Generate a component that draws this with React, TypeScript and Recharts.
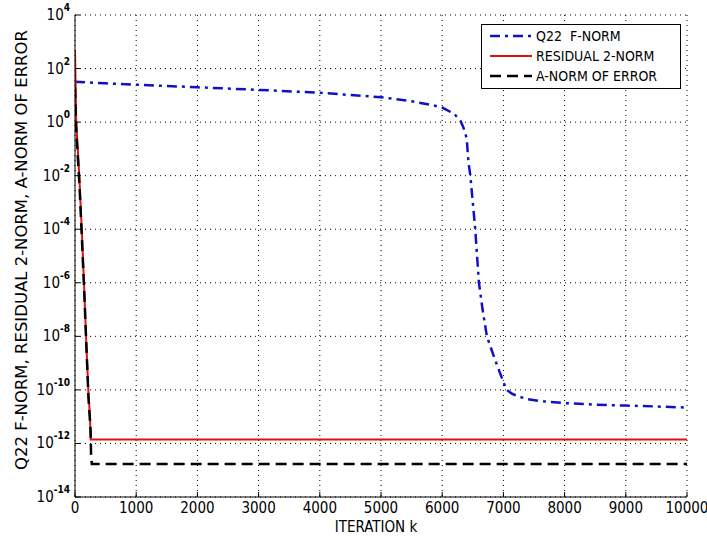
import React from "react";
import { LineChart, Line, XAxis, YAxis, CartesianGrid, Legend, Label } from "recharts";

// iteration ticks and log-axis ticks
const xTicks = [0, 1000, 2000, 3000, 4000, 5000, 6000, 7000, 8000, 9000, 10000];
const yExponents = [4, 2, 0, -2, -4, -6, -8, -10, -12, -14];
const yTicks = yExponents.map((e) => Math.pow(10, e));

// Q22 F-norm
const q22Iter = [0, 500, 1000, 2000, 3000, 4000, 5000, 5500, 5800, 6000, 6200, 6300, 6350, 6400, 6430, 6460, 6500, 6540, 6600, 6660, 6730, 6860, 6970, 7050, 7150, 7270, 7400, 7600, 8000, 8500, 9000, 9500, 10000];
const q22Vals = [32, 28, 25, 20, 16, 12.5, 8.5, 6, 4.5, 3.5, 2.0, 1.1, 0.6, 0.25, 0.03, 0.01, 1e-3, 1e-4, 1e-6, 1e-7, 1e-8, 1.4e-9, 3e-10, 1e-10, 7e-11, 5.5e-11, 4.5e-11, 3.8e-11, 3.2e-11, 2.8e-11, 2.6e-11, 2.4e-11, 2.2e-11];

// residual 2-norm
const resIter = [0, 20, 70, 110, 147, 180, 217, 245, 256, 10000];
const resVals = [500, 1, 1e-2, 1e-4, 1e-6, 1e-8, 1e-10, 1e-11, 1.4e-12, 1.4e-12];

// A-norm of error
const errIter = [0, 20, 72, 112, 150, 185, 220, 255, 262, 275, 10000];
const errVals = [20, 0.5, 5e-3, 5e-5, 5e-7, 5e-9, 5e-11, 3e-12, 4e-13, 1.7e-13, 1.7e-13];

const toRows = (ks: number[], vs: number[]) => ks.map((k, i) => ({ k, v: vs[i] }));

const SERIES = [
  { name: "Q22  F-NORM", color: "#1010c8", dash: "10 5 3 5", width: 2.5, data: toRows(q22Iter, q22Vals) },
  { name: "RESIDUAL 2-NORM", color: "#e01010", dash: undefined, width: 2, data: toRows(resIter, resVals) },
  { name: "A-NORM OF ERROR", color: "#000000", dash: "11 6", width: 2.5, data: toRows(errIter, errVals) },
];

const FONT = "'Liberation Sans Narrow', 'DejaVu Sans Condensed', 'Liberation Sans', Arial, sans-serif";

const XTick = (props: any) => {
  const { x, y, payload } = props;
  return (
    <g>
      <line x1={x} x2={x} y1={y} y2={y - 5} stroke="#000" />
      <text x={x} y={y + 11} textAnchor="middle" dominantBaseline="central" fontSize={15} fontFamily={FONT} fill="#000">
        {payload.value}
      </text>
    </g>
  );
};

const YTick = (props: any) => {
  const { x, y, payload } = props;
  const exp = Math.round(Math.log10(payload.value));
  return (
    <g>
      <line x1={x} x2={x + 5} y1={y} y2={y} stroke="#000" />
      <text x={x - 5} y={y} textAnchor="end" dominantBaseline="central" fontSize={15} fontFamily={FONT} fill="#000">
        10
        <tspan dy={-8} fontSize={10} fontWeight="bold">{String(exp)}</tspan>
      </text>
    </g>
  );
};

const renderLegend = () => (
  <div
    style={{
      width: 200,
      height: 65,
      boxSizing: "border-box",
      border: "1px solid #000",
      background: "#fff",
      paddingTop: 1,
      fontFamily: FONT,
      fontSize: 14,
      color: "#000",
    }}
  >
    {SERIES.map((s) => (
      <div key={s.name} style={{ display: "flex", alignItems: "center", height: 20 }}>
        <svg width={52} height={10}>
          <line x1={8} x2={50} y1={5} y2={5} stroke={s.color} strokeWidth={s.width} strokeDasharray={s.dash} />
        </svg>
        <span style={{ marginLeft: 2, whiteSpace: "pre" }}>{s.name}</span>
      </div>
    ))}
  </div>
);

export default function App() {
  return (
    <div style={{ position: "absolute", left: 0, top: 0, background: "#fff" }}>
      <LineChart width={707} height={540} margin={{ top: 15, right: 20, bottom: 0, left: 0 }}>
        <CartesianGrid stroke="#000" strokeDasharray="1 4" />
        <XAxis
          type="number"
          dataKey="k"
          domain={[0, 10000]}
          ticks={xTicks}
          allowDataOverflow
          height={43}
          tickSize={0}
          tickMargin={0}
          tick={<XTick />}
          axisLine={{ stroke: "#000" }}
          interval={0}
        >
          <Label
            content={() => (
              <text x={376} y={527} textAnchor="middle" dominantBaseline="central" fontSize={15} fontFamily={FONT} fill="#000">
                ITERATION  k
              </text>
            )}
          />
        </XAxis>
        <YAxis
          type="number"
          scale="log"
          domain={[1e-14, 1e4]}
          ticks={yTicks}
          allowDataOverflow
          width={75}
          tickSize={0}
          tickMargin={0}
          tick={<YTick />}
          axisLine={{ stroke: "#000" }}
          interval={0}
        >
          <Label
            content={() => (
              <text
                x={22}
                y={250}
                transform="rotate(-90 22 250)"
                textAnchor="middle"
                dominantBaseline="central"
                fontSize={15}
                textLength={440}
                lengthAdjust="spacingAndGlyphs"
                fontFamily={FONT}
                fill="#000"
              >
                Q22 F-NORM, RESIDUAL 2-NORM, A-NORM OF ERROR
              </text>
            )}
          />
        </YAxis>
        <Legend
          content={renderLegend}
          verticalAlign="middle"
          align="center"
          wrapperStyle={{ left: 481, top: 24, width: 200, height: 65 }}
        />
        {SERIES.map((s) => (
          <Line
            key={s.name}
            data={s.data}
            dataKey="v"
            name={s.name}
            type="linear"
            stroke={s.color}
            strokeWidth={s.width}
            strokeDasharray={s.dash}
            dot={false}
            activeDot={false}
            isAnimationActive={false}
          />
        ))}
      </LineChart>
    </div>
  );
}
